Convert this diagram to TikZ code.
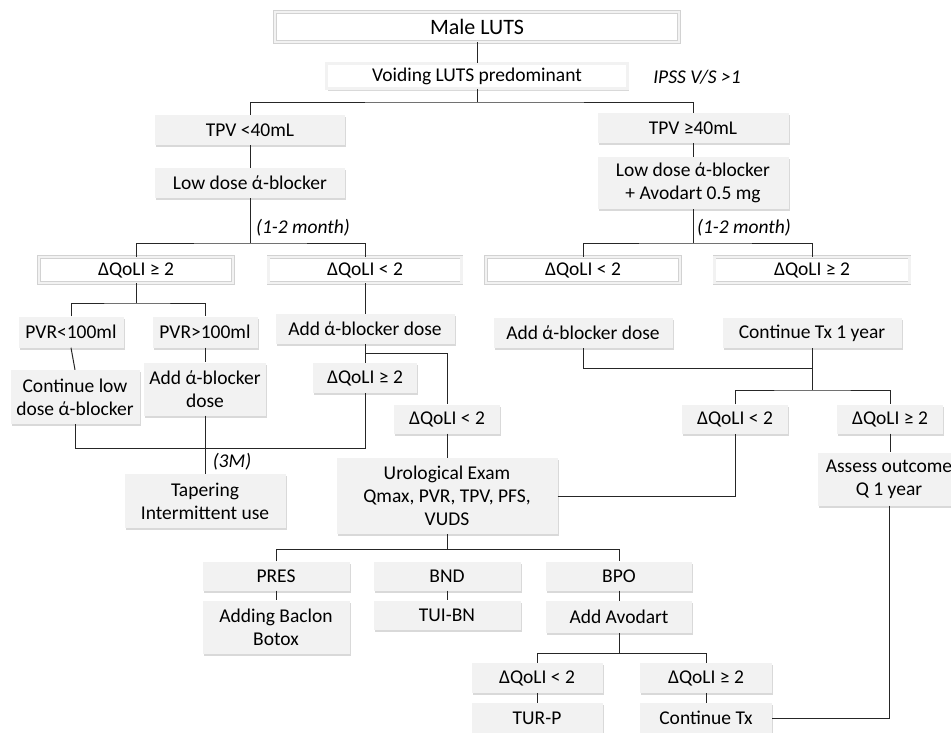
\documentclass[tikz,border=0pt]{standalone}
\usepackage{fontspec}
\setmainfont{Carlito}
\usetikzlibrary{shadows}
\tikzset{
  box/.style={fill=gray!10, minimum height=30pt, inner sep=2pt, align=center,
    drop shadow={shadow xshift=1pt, shadow yshift=-2pt, opacity=0.3}},
  framebox/.style={box, fill=white, draw=gray!35, double=gray!10, double distance=2.5pt, line width=0.5pt},
  note/.style={font=\fontsize{19.5}{23}\selectfont\itshape},
  link/.style={draw=black!85, line width=1pt}
}

\begin{document}
\begin{tikzpicture}[x=1pt,y=-1pt,font=\fontsize{19.5}{23}\selectfont]
\useasboundingbox (0,0) rectangle (951,732);

\node[framebox, minimum width=404pt, minimum height=30pt, font=\fontsize{22}{24}\selectfont] (male) at (477,27) {Male LUTS};
\node[framebox, minimum width=301pt, minimum height=25pt] (voiding) at (477,76) {Voiding LUTS predominant};
\node[note] (ipss) at (697,77) {IPSS V/S >1};

\node[box, minimum width=190pt] (tpvlow) at (250,130) {TPV <40mL};
\node[box, minimum width=191pt] (tpvhigh) at (693,128) {TPV ≥40mL};
\node[box, minimum width=190pt] (lowab) at (250,183) {Low dose ά-blocker};
\node[box, minimum width=191pt, minimum height=52pt] (lowabav) at (693,183) {Low dose ά-blocker\\+ Avodart 0.5 mg};
\node[note] (monthL) at (303,228) {(1-2 month)};
\node[note] (monthR) at (744,228) {(1-2 month)};

\node[framebox, minimum width=194pt, minimum height=26pt] (qgeL) at (136,270) {ΔQoLI ≥ 2};
\node[framebox, minimum width=193pt, minimum height=26pt] (qltL) at (365,270) {ΔQoLI < 2};
\node[framebox, minimum width=194pt, minimum height=26pt] (qltR) at (583,270) {ΔQoLI < 2};
\node[framebox, minimum width=195pt, minimum height=26pt] (qgeR) at (812,270) {ΔQoLI ≥ 2};

\node[box, minimum width=105pt, minimum height=31pt] (pvrlow) at (71,332) {PVR<100ml};
\node[box, minimum width=105pt, minimum height=31pt] (pvrhigh) at (205,332) {PVR>100ml};
\node[box, minimum width=179pt] (addabL) at (365,329) {Add ά-blocker dose};
\node[box, minimum width=179pt] (addabR) at (583,333) {Add ά-blocker dose};
\node[box, minimum width=179pt] (conttx) at (812,333) {Continue Tx 1 year};

\node[box, minimum width=129pt, minimum height=54pt] (contlow) at (75,397) {Continue low\\dose ά-blocker};
\node[box, minimum width=122pt, minimum height=53pt] (addabP) at (205,389) {Add ά-blocker\\dose};
\node[box, minimum width=104pt] (qgeS) at (365,378) {ΔQoLI ≥ 2};
\node[box, minimum width=106pt, minimum height=29pt] (qltS) at (447,419) {ΔQoLI < 2};
\node[box, minimum width=106pt, minimum height=29pt] (qltR2) at (735,419) {ΔQoLI < 2};
\node[box, minimum width=106pt, minimum height=29pt] (qgeR2) at (890,419) {ΔQoLI ≥ 2};

\node[note] (three) at (232,462) {(3M)};
\node[box, minimum width=161pt, minimum height=54pt] (taper) at (205,501) {Tapering\\Intermittent use};
\node[box, minimum width=221pt, minimum height=76pt] (urol) at (447,496) {Urological Exam\\Qmax, PVR, TPV, PFS,\\VUDS};
\node[box, minimum width=142pt, minimum height=53pt] (assess) at (889,479) {Assess outcome\\Q 1 year};

\node[box, minimum width=147pt, minimum height=29pt] (pres) at (276,576) {PRES};
\node[box, minimum width=147pt, minimum height=29pt] (bnd) at (447,576) {BND};
\node[box, minimum width=146pt, minimum height=29pt] (bpo) at (619,576) {BPO};
\node[box, minimum width=147pt, minimum height=53pt] (baclon) at (276,627) {Adding Baclon\\Botox};
\node[box, minimum width=147pt, minimum height=29pt] (tuibn) at (447,615) {TUI-BN};
\node[box, minimum width=146pt, minimum height=32pt] (addav) at (619,617) {Add Avodart};
\node[box, minimum width=131pt] (qltB) at (537,678) {ΔQoLI < 2};
\node[box, minimum width=132pt] (qgeB) at (706,678) {ΔQoLI ≥ 2};
\node[box, minimum width=131pt] (turp) at (537,718) {TUR-P};
\node[box, minimum width=132pt] (conttxB) at (706,718) {Continue Tx};

\coordinate (j1) at (477,102);
\coordinate (j2) at (250,243);
\coordinate (j3) at (693,243);
\coordinate (j4) at (136,303);
\coordinate (j5) at (365,353);
\coordinate (j6) at (0,448);
\coordinate (j7) at (812,368);
\coordinate (j8) at (812,390);
\coordinate (j9) at (447,549);
\coordinate (j10) at (619,653);

\draw[link] (male) -- (voiding);
\draw[link] (voiding) -- (j1);
\draw[link] (tpvlow) |- (j1) -| (tpvhigh);
\draw[link] (tpvlow) -- (lowab);
\draw[link] (tpvhigh) -- (lowabav);
\draw[link] (lowab) -- (j2);
\draw[link] (qgeL) |- (j2) -| (qltL);
\draw[link] (lowabav) -- (j3);
\draw[link] (qltR) |- (j3) -| (qgeR);
\draw[link] (qgeL) -- (j4);
\draw[link] (pvrlow) |- (j4) -| (pvrhigh);
\draw[link] (pvrlow.south) -- (contlow.north);
\draw[link] (pvrhigh) -- (addabP);
\draw[link] (qltL) -- (addabL);
\draw[link] (addabL) -- (qgeS);
\draw[link] (j5) -| (qltS);
\draw[link] (qgeS) |- (contlow.south |- j6) -- (contlow);
\draw[link] (addabP) -- (taper);
\draw[link] (qltS) -- (urol);
\draw[link] (urol) -| (qltR2);
\draw[link] (addabR) |- (j7);
\draw[link] (conttx) -- (j8);
\draw[link] (qltR2) |- (j8) -| (qgeR2);
\draw[link] (qgeR2.south) -- (qgeR2.south |- assess.north);
\draw[link] (assess.south) |- (conttxB);
\draw[link] (urol) -- (j9);
\draw[link] (pres) |- (j9) -| (bpo);
\draw[link] (pres) -- (baclon);
\draw[link] (bnd) -- (tuibn);
\draw[link] (bpo) -- (addav);
\draw[link] (addav) -- (j10);
\draw[link] (qltB) |- (j10) -| (qgeB);
\draw[link] (qltB) -- (turp);
\draw[link] (qgeB) -- (conttxB);
\end{tikzpicture}
\end{document}
